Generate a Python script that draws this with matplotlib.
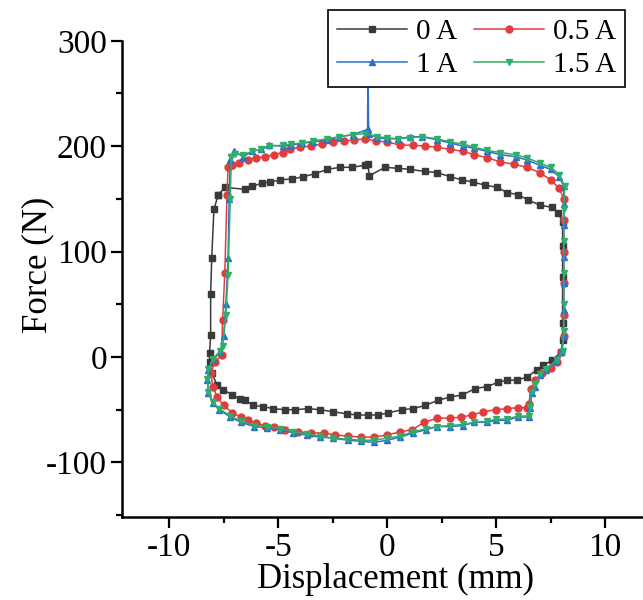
import matplotlib
matplotlib.use("Agg")
import matplotlib.pyplot as plt
from matplotlib.ticker import MultipleLocator

plt.rcParams['font.family'] = ['Liberation Serif', 'DejaVu Serif']
plt.rcParams['axes.unicode_minus'] = False

labels = ['0 A', '0.5 A', '1 A', '1.5 A']

# 0 A loop
x_0A = [-7.75, -7.43, -6.51, -6.19, -5.73, -5.37, -4.91, -4.36, -3.85, -3.30, -2.75, -2.16, -1.61, -1.01,
        -0.88, -0.82, -0.09, 0.50, 1.06, 1.74, 2.29, 2.89, 3.44, 3.94, 4.50, 5.05, 5.50, 6.01, 6.47, 7.02,
        7.57, 7.84, 8.05, 8.05, 8.05, 8.05, 8.05, 8.0,
        7.57, 7.16, 6.88, 6.42, 5.96, 5.50, 5.09, 4.59, 4.04, 3.44, 2.89, 2.34, 1.74, 1.19, 0.69,
        0.05, -0.41, -0.87, -1.38, -1.83, -2.48, -3.07, -3.62, -4.22, -4.68, -5.23, -5.69, -6.15, -6.51,
        -6.74, -7.11, -7.52, -7.80, -8.05, -8.15, -8.15, -8.1, -8.1, -8.05, -7.95, -7.75]
y_0A = [154, 161, 159, 162, 165, 166, 168, 169, 171, 174, 178, 180, 180, 182,
        183, 172, 180, 179, 178, 176, 175, 171, 168, 166, 163, 161, 156, 154, 149, 144,
        142, 137, 128, 105, 76, 32, 16, 5,
        -3, -8, -12, -19, -22, -22, -24, -28, -30, -36, -38, -41, -46, -49, -50,
        -53, -55, -55, -55, -54, -52, -50, -49, -50, -50, -49, -47, -46, -41,
        -40, -36, -31, -27, -15, -5, 4, 21, 60, 94, 140, 154]

# 0.5 A loop
x_05A = [-7.1, -6.8, -6.4, -6.0, -5.6, -5.2, -4.8, -4.45, -4.0, -3.5, -3.0, -2.5, -2.0, -1.5, -1.0,
         -0.5, 0.0, 0.6, 1.2, 1.74, 2.3, 2.9, 3.5, 4.0, 4.6, 5.2, 5.8, 6.4, 7.0, 7.5, 7.9, 8.1,
         8.1, 8.1, 8.1, 8.1, 8.1, 8.0, 7.8, 7.5, 7.1, 6.8, 6.6, 6.5,
         6.4, 6.0, 5.5, 5.0, 4.4, 3.9, 3.4, 2.9, 2.3, 1.7, 1.15, 0.6, 0.0, -0.6, -1.2, -1.8, -2.4,
         -2.9, -3.5, -4.1, -4.7, -5.2, -5.6, -6.0, -6.4, -6.7, -7.1, -7.5, -7.8, -8.0, -8.1, -7.9,
         -7.6, -7.55, -7.45, -7.35, -7.3, -7.1]
y_05A = [182, 184, 187, 189, 190, 192, 194, 197, 199, 200, 202, 204, 205, 206, 207,
         205, 204, 201, 201, 200, 199, 197, 195, 192, 189, 185, 183, 180, 175, 168, 160, 150,
         130, 100, 70, 40, 20, 5, -5, -10, -15, -22, -30, -45,
         -48, -48, -49, -50, -52, -55, -57, -58, -58, -62, -69, -71, -74, -76, -76, -75, -74,
         -72, -72, -71, -69, -66, -65, -63, -60, -57, -53, -46, -38, -28, -15, -5,
         2, 35, 80, 154, 180, 182]

# 1 A loop
x_1A = [-7.2, -7.05, -6.6, -6.2, -5.8, -5.4, -4.8, -4.4, -3.9, -3.4, -2.75, -2.2, -1.55, -0.9,
        -0.88, -0.85, -0.46, 0.0, 0.5, 1.05, 1.6, 2.3, 2.9, 3.5, 4.0, 4.6, 5.2, 5.9, 6.4, 7.0, 7.5,
        7.9, 8.1, 8.1, 8.1, 8.1, 8.1, 8.1, 8.1, 8.0, 7.7, 7.3, 7.0, 6.8, 6.65, 6.55, 6.5,
        6.0, 5.5, 5.0, 4.6, 4.0, 3.5, 2.9, 2.3, 1.8, 1.2, 0.6, 0.0, -0.6, -1.2, -1.8, -2.5, -3.1,
        -3.7, -4.3, -4.9, -5.5, -6.1, -6.7, -7.2, -7.7, -8.0, -8.2, -8.25, -8.2, -8.0, -7.66,
        -7.5, -7.4, -7.3, -7.25, -7.2]
y_1A = [187, 195, 190, 195, 197, 201, 200, 201, 203, 204, 206, 209, 211, 216,
        280, 212, 208, 207, 207, 209, 209, 206, 203, 200, 198, 195, 192, 190, 187, 182, 178,
        171, 162, 145, 125, 95, 70, 45, 20, 5, -4, -12, -17, -28, -34, -48, -57,
        -57, -60, -60, -62, -62, -65, -66, -66, -69, -72, -76, -79, -81, -80, -79, -77, -76,
        -74, -72, -69, -67, -66, -62, -57, -50, -44, -34, -22, -12, -3, 5,
        20, 50, 94, 150, 187]

# 1.5 A loop
x_15A = [-7.15, -7.0, -6.6, -6.2, -5.8, -5.4, -4.8, -4.4, -3.9, -3.4, -2.75, -2.2, -1.55, -1.0,
         -0.46, 0.0, 0.5, 1.05, 1.6, 2.3, 2.9, 3.5, 4.0, 4.6, 5.2, 5.9, 6.4, 7.0, 7.5,
         7.9, 8.15, 8.1, 8.1, 8.1, 8.1, 8.1, 8.05, 7.8, 7.3, 7.0, 6.8, 6.65, 6.55, 6.5,
         6.0, 5.5, 5.0, 4.6, 4.0, 3.5, 2.9, 2.3, 1.8, 1.2, 0.6, 0.0, -0.6, -1.2, -1.8, -2.5, -3.1,
         -3.7, -4.3, -4.9, -5.5, -6.1, -6.7, -7.2, -7.7, -8.0, -8.2, -8.25, -8.2, -8.0, -7.66,
         -7.55, -7.4, -7.3, -7.2, -7.15]
y_15A = [190, 193, 192, 195, 197, 200, 201, 202, 203, 205, 207, 209, 211, 212,
         209, 208, 207, 208, 209, 207, 204, 202, 199, 196, 194, 192, 189, 184, 180,
         173, 162, 140, 110, 80, 50, 25, 6, -3, -11, -16, -26, -33, -47, -56,
         -56, -59, -59, -61, -62, -64, -65, -66, -68, -71, -75, -77, -79, -79, -78, -77, -75,
         -73, -71, -68, -66, -65, -61, -56, -49, -43, -33, -21, -11, -2, 6,
         10, 40, 78, 150, 190]

colors = ['#3a3a3a', '#e23d3d', '#2b6fd1', '#2fae6a']
markers = ['s', 'o', '^', 'v']

fig = plt.figure(figsize=(6.43, 6.0), dpi=100)
ax = fig.add_axes([0.19, 0.138, 0.81, 0.794])

series = [(x_0A, y_0A), (x_05A, y_05A), (x_1A, y_1A), (x_15A, y_15A)]
handles = []
for (xs, ys), c, m, lab in zip(series, colors, markers, labels):
    h, = ax.plot(xs, ys, color=c, marker=m, markersize=5, linewidth=1.1, label=lab)
    handles.append(h)

ax.set_xlim(-12.16, 11.74)
ax.set_ylim(-152, 300)
ax.spines['top'].set_visible(False)
ax.spines['right'].set_visible(False)
for s in ['left', 'bottom']:
    ax.spines[s].set_linewidth(1.8)

ax.xaxis.set_major_locator(MultipleLocator(5))
ax.xaxis.set_minor_locator(MultipleLocator(2.5))
ax.yaxis.set_major_locator(MultipleLocator(100))
ax.yaxis.set_minor_locator(MultipleLocator(50))
ax.tick_params(which='major', direction='out', length=8, width=1.6, labelsize=24, pad=3)
ax.tick_params(which='minor', direction='out', length=4.5, width=1.6)

ax.set_xlabel('Displacement (mm)', fontsize=25)
ax.set_ylabel('Force (N)', fontsize=25)
ax.xaxis.set_label_coords(0.524, -0.095)
ax.yaxis.set_label_coords(-0.13, 0.53)

order = [0, 2, 1, 3]
leg = fig.legend([handles[i] for i in order], [labels[i] for i in order], ncol=2,
                 loc='upper right', bbox_to_anchor=(0.972, 0.983), bbox_transform=fig.transFigure,
                 fontsize=21, frameon=True, fancybox=False, edgecolor='black', framealpha=1,
                 handlelength=2.4, handletextpad=0.3, columnspacing=0.6, labelspacing=0.22,
                 borderpad=0.3, borderaxespad=0)
leg.get_frame().set_linewidth(1.2)

fig.savefig('out.png', dpi=100)
